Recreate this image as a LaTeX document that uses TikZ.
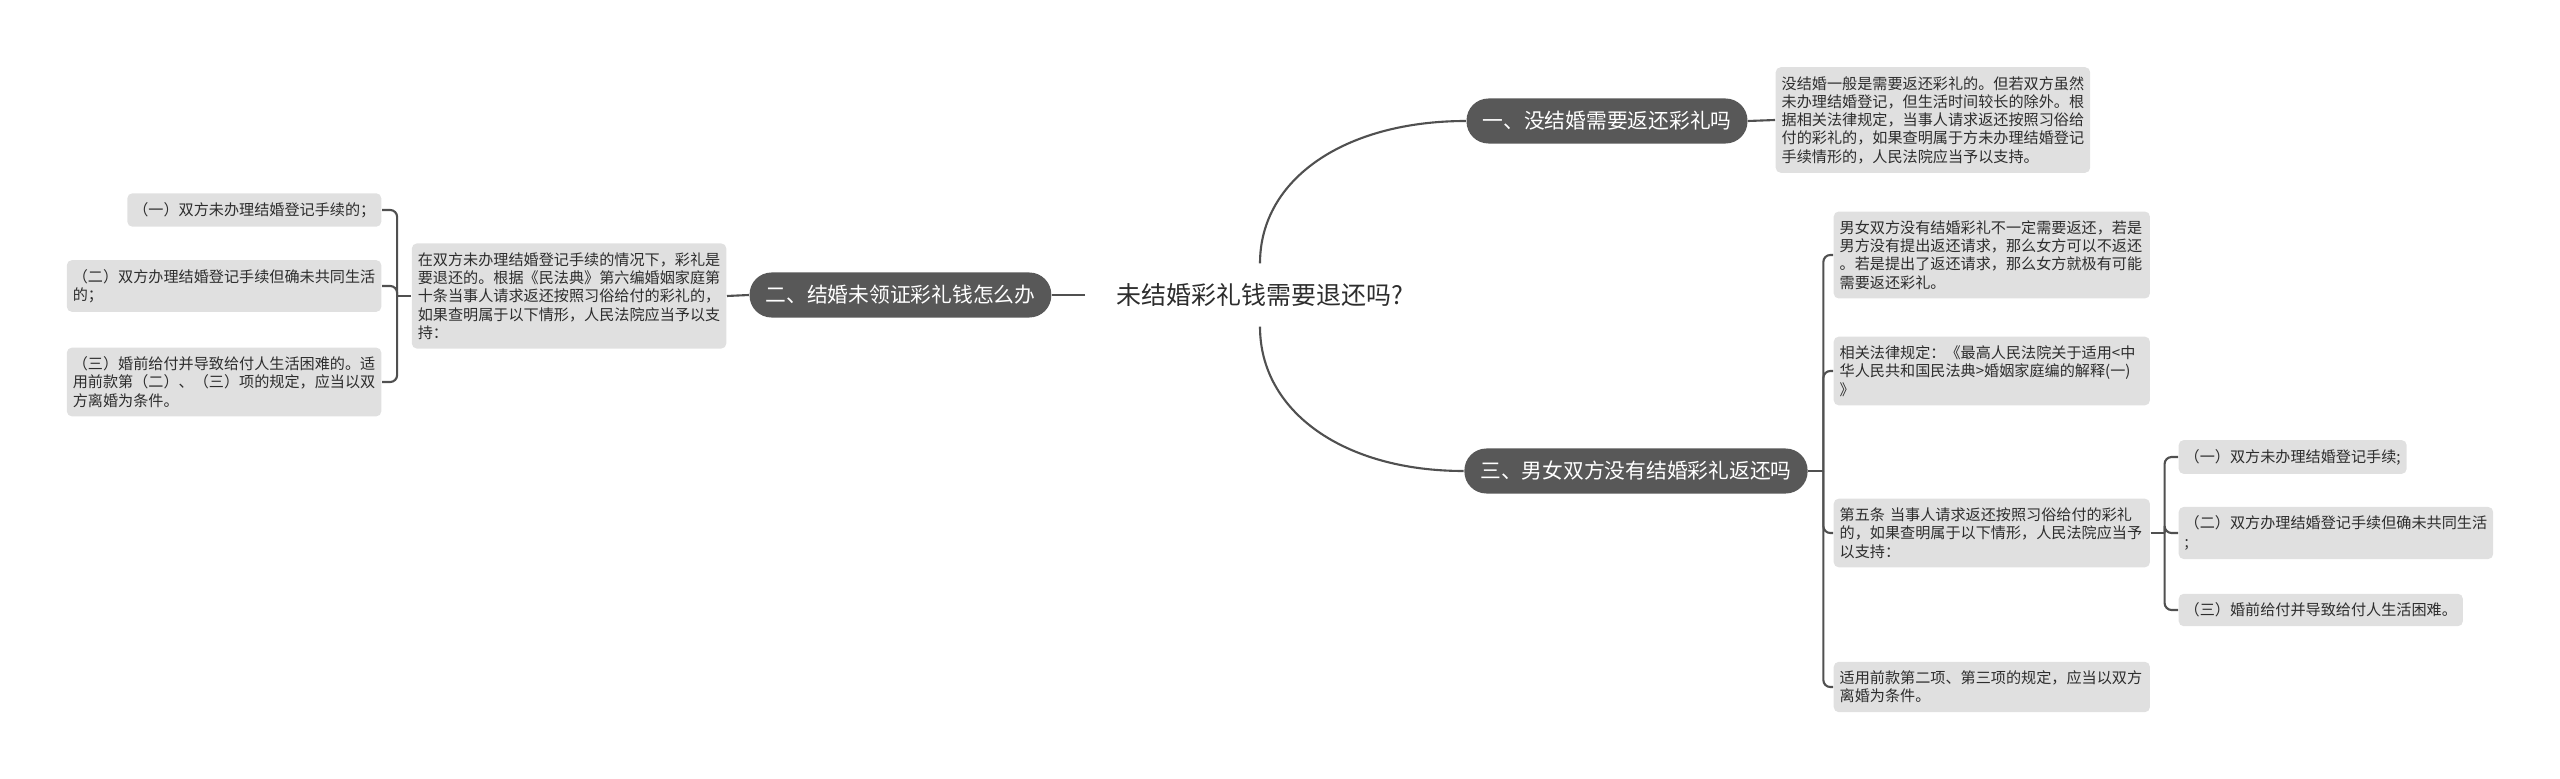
\documentclass[tikz,border=0pt]{standalone}
\usepackage{fontspec}
\setmainfont{Noto Sans CJK SC}
\usetikzlibrary{positioning}
\definecolor{pillcol}{RGB}{88,88,88}
\definecolor{boxcol}{RGB}{224,224,224}
\definecolor{linecol}{RGB}{80,80,80}
\definecolor{txtcol}{RGB}{45,45,45}
\newcommand{\boxfont}{\fontsize{4.3pt}{5.2pt}\selectfont}
\newcommand{\pillfont}{\fontsize{5.9pt}{7pt}\selectfont}
\newcommand{\rootfont}{\fontsize{7.1pt}{8.5pt}\selectfont}

\begin{document}
\begin{tikzpicture}[x=0.01cm,y=-0.01cm,
  link/.style={draw=linecol,line width=0.6pt},
  pill/.style={fill=pillcol,text=white,rounded corners=0.22cm,inner xsep=0.16cm,
    inner ysep=0pt,minimum height=0.45cm,font=\pillfont},
  leaf/.style={fill=boxcol,text=txtcol,rounded corners=0.05cm,inner xsep=0.06cm,
    inner ysep=0.09cm,align=left,font=\boxfont},
  rleaf/.style={leaf,anchor=west,text width=3.04cm}]
  \useasboundingbox (0,0) rectangle (2560,779);

  % centre and the three branches
  \node[font=\rootfont,text=txtcol,minimum height=0.62cm,inner xsep=0.31cm] (root) at (1260,295) {未结婚彩礼钱需要退还吗?};
  \node[pill] (b1) at (1607,121) {一、没结婚需要返还彩礼吗};
  \node[pill,anchor=east] (b2) at (1052,295) {二、结婚未领证彩礼钱怎么办};
  \node[pill] (b3) at (1636,471) {三、男女双方没有结婚彩礼返还吗};

  % branch one
  \node[leaf,anchor=west] (d1) at (1775,120) {没结婚一般是需要返还彩礼的。但若双方虽然\\未办理结婚登记，但生活时间较长的除外。根\\据相关法律规定，当事人请求返还按照习俗给\\付的彩礼的，如果查明属于方未办理结婚登记\\手续情形的，人民法院应当予以支持。};

  % branch two (left)
  \node[leaf,anchor=east] (d2) at (727,296) {在双方未办理结婚登记手续的情况下，彩礼是\\要退还的。根据《民法典》第六编婚姻家庭第\\十条当事人请求返还按照习俗给付的彩礼的，\\如果查明属于以下情形，人民法院应当予以支\\持：};
  \node[leaf,anchor=east] (l1) at (382,210) {（一）双方未办理结婚登记手续的；};
  \node[leaf,anchor=east] (l2) at (382,286) {（二）双方办理结婚登记手续但确未共同生活\\的；};
  \node[leaf,anchor=east] (l3) at (382,382) {（三）婚前给付并导致给付人生活困难的。适\\用前款第（二）、（三）项的规定，应当以双\\方离婚为条件。};

  % branch three
  \node[rleaf] (r1) at (1833,255) {男女双方没有结婚彩礼不一定需要返还，若是\\男方没有提出返还请求，那么女方可以不返还\\。若是提出了返还请求，那么女方就极有可能\\需要返还彩礼。};
  \node[rleaf] (r2) at (1833,371) {相关法律规定：《最高人民法院关于适用<中\\华人民共和国民法典>婚姻家庭编的解释(一)\\》};
  \node[rleaf] (r3) at (1833,533) {第五条 当事人请求返还按照习俗给付的彩礼\\的，如果查明属于以下情形，人民法院应当予\\以支持：};
  \node[rleaf] (r4) at (1833,687) {适用前款第二项、第三项的规定，应当以双方\\离婚为条件。};
  \node[leaf,anchor=west] (s1) at (2178,457) {（一）双方未办理结婚登记手续;};
  \node[leaf,anchor=west] (s2) at (2178,533) {（二）双方办理结婚登记手续但确未共同生活\\;};
  \node[leaf,anchor=west] (s3) at (2178,610) {（三）婚前给付并导致给付人生活困难。};

  % connectors
  \draw[link] (root.north) .. controls +(0,-85) and +(-120,0) .. (b1.west);
  \draw[link] (root.south) .. controls +(0,85) and +(-120,0) .. (b3.west);
  \draw[link] (root.west) -- (b2.east);
  \draw[link] (b1.east) -- (d1.west);
  \draw[link] (b2.west) -- (d2.east);

  \path (d2.west) ++(-14,0) coordinate (lfork);
  \draw[link] (d2.west) -- (lfork);
  \foreach \k in {l1,l2,l3}
    \draw[link,rounded corners=0.07cm] (lfork) |- (\k.east);

  \path (b3.east) ++(15,0) coordinate (rfork);
  \draw[link] (b3.east) -- (rfork);
  \foreach \k in {r1,r2,r3,r4}
    \draw[link,rounded corners=0.07cm] (rfork) |- (\k.west);

  \path (r3.east) ++(14,0) coordinate (sfork);
  \draw[link] (r3.east) -- (sfork);
  \foreach \k in {s1,s2,s3}
    \draw[link,rounded corners=0.07cm] (sfork) |- (\k.west);
\end{tikzpicture}
\end{document}
